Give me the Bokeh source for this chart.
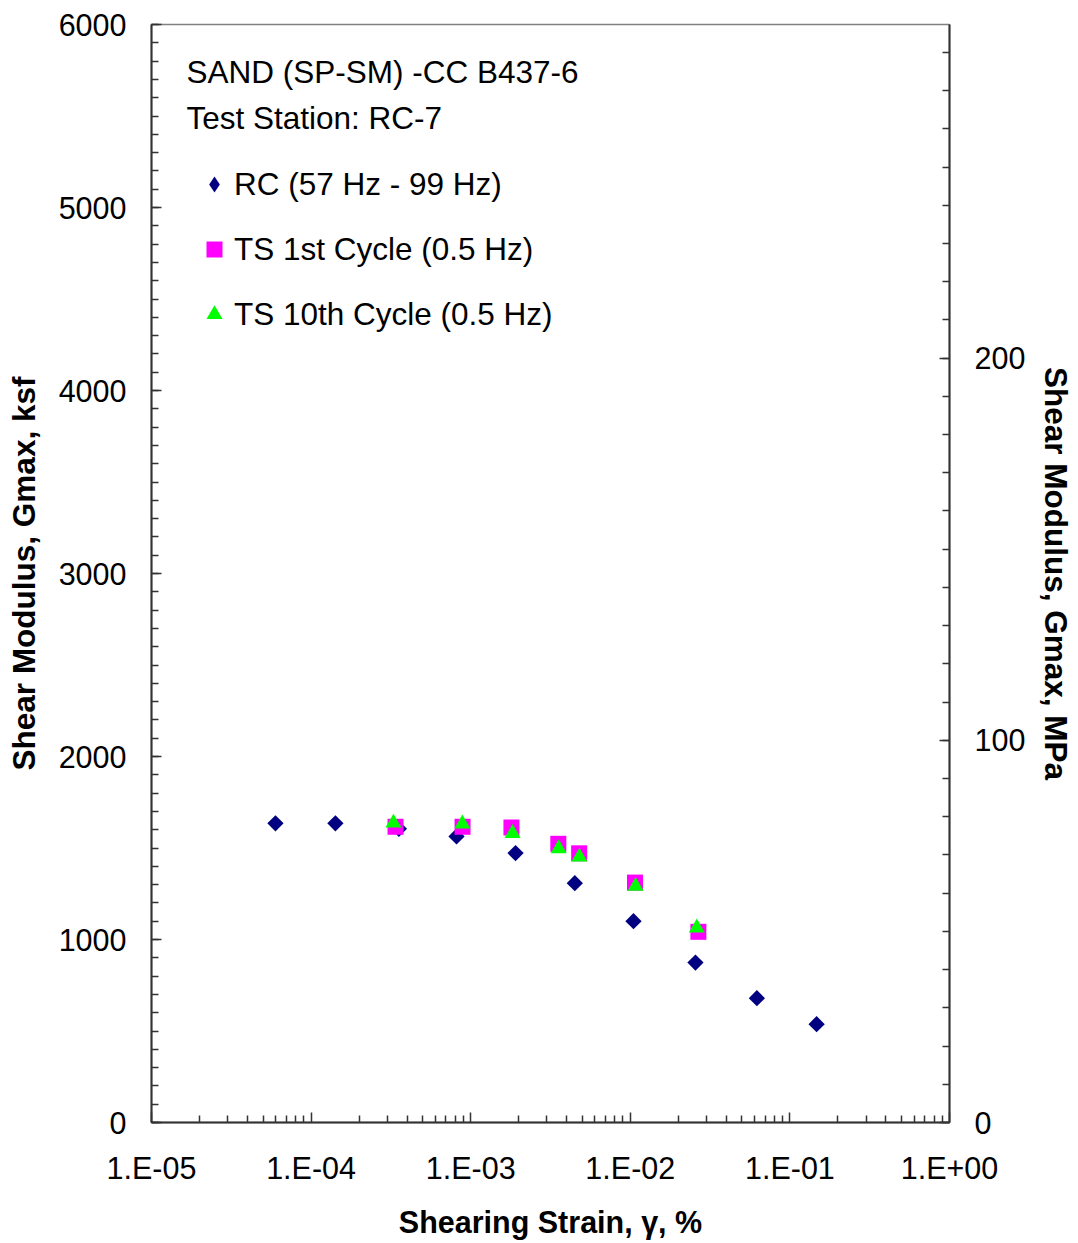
import numpy as np
from bokeh.plotting import figure
from bokeh.models import (Range1d, LinearAxis, FixedTicker, Legend, LegendItem, Label)
from bokeh.embed import file_html
from bokeh.resources import INLINE

# ---------------- data ----------------
rc_strain = [5.98e-5, 1.42e-4, 3.55e-4, 8.15e-4, 1.91e-3, 4.49e-3, 1.047e-2, 2.56e-2, 6.21e-2, 0.147]
rc_gmax = [1635, 1635, 1605, 1563, 1472, 1308, 1100, 874, 679, 537]

ts1_strain = [3.38e-4, 8.89e-4, 1.80e-3, 3.54e-3, 4.78e-3, 1.07e-2, 2.67e-2]
ts1_gmax = [1616, 1616, 1612, 1523, 1471, 1311, 1042]

ts10_strain = [3.28e-4, 8.87e-4, 1.83e-3, 3.56e-3, 4.80e-3, 1.08e-2, 2.61e-2]
ts10_gmax = [1637, 1632, 1580, 1497, 1451, 1291, 1064]

x_ticks = [1e-5, 1e-4, 1e-3, 1e-2, 1e-1, 1e0]
x_tick_labels = ["1.E-05", "1.E-04", "1.E-03", "1.E-02", "1.E-01", "1.E+00"]
y_ticks_ksf = [0, 1000, 2000, 3000, 4000, 5000, 6000]
y_ticks_mpa = [0, 100, 200]
KSF_PER_MPA = 20.885

series_labels = ["RC (57 Hz - 99 Hz)", "TS 1st Cycle (0.5 Hz)", "TS 10th Cycle (0.5 Hz)"]
note_lines = ["SAND (SP-SM) -CC B437-6", "Test Station: RC-7"]

FONT = "Liberation Sans"
AX_COLOR = "#333333"

x_minor = [m * 10.0 ** e for e in range(-5, 0) for m in range(2, 10)]
y_minor = list(range(0, 6001, 100))
mpa_minor = list(range(0, 290, 10))

p = figure(width=1078, height=1243, x_axis_type="log",
           x_range=Range1d(1e-5, 1.0), y_range=Range1d(0, 6000),
           output_backend="svg", toolbar_location=None,
           min_border_left=151, min_border_right=129,
           min_border_top=24, min_border_bottom=121)
p.extra_y_ranges = {"mpa": Range1d(0, 6000 / KSF_PER_MPA)}

p.xgrid.visible = False
p.ygrid.visible = False
p.outline_line_color = "#808080"
p.outline_line_width = 1.5
p.background_fill_color = "white"
p.border_fill_color = "white"


def style_axis(ax):
    ax.axis_line_color = AX_COLOR
    ax.axis_line_width = 2
    ax.major_tick_in = 10
    ax.major_tick_out = 0
    ax.minor_tick_in = 7
    ax.minor_tick_out = 0
    ax.major_tick_line_color = AX_COLOR
    ax.minor_tick_line_color = AX_COLOR
    ax.major_tick_line_width = 1.5
    ax.minor_tick_line_width = 1.5
    ax.major_label_text_font = FONT
    ax.major_label_text_font_size = "30.5px"
    ax.major_label_text_color = "black"
    ax.axis_label_text_font = FONT
    ax.axis_label_text_font_style = "bold"
    ax.axis_label_text_font_size = "31.5px"
    ax.axis_label_text_color = "black"


xa = p.xaxis[0]
xa.ticker = FixedTicker(ticks=x_ticks, minor_ticks=x_minor)
xa.major_label_overrides = dict(zip(x_ticks, x_tick_labels))
xa.axis_label = "Shearing Strain, γ, %"
style_axis(xa)
xa.axis_label_text_font_size = "30.5px"
xa.major_label_standoff = 28
xa.axis_label_standoff = 17

ya = p.yaxis[0]
ya.ticker = FixedTicker(ticks=y_ticks_ksf, minor_ticks=y_minor)
ya.axis_label = "Shear Modulus, Gmax, ksf"
style_axis(ya)
ya.major_label_standoff = 25
ya.axis_label_standoff = 14

ra = LinearAxis(y_range_name="mpa", ticker=FixedTicker(ticks=y_ticks_mpa, minor_ticks=mpa_minor),
                axis_label="Shear Modulus, Gmax, MPa")
style_axis(ra)
ra.major_label_standoff = 25
ra.axis_label_standoff = 10
p.add_layout(ra, "right")

# ---------------- markers ----------------
r_rc = p.scatter(rc_strain, rc_gmax, marker="square", size=11.5, angle=np.pi / 4,
                 fill_color="#000080", line_color=None)
r_ts1 = p.scatter(ts1_strain, ts1_gmax, marker="square", size=16,
                  fill_color="#FF00FF", line_color=None)
r_ts10 = p.scatter(ts10_strain, ts10_gmax, marker="triangle", size=16,
                   fill_color="#00FF00", line_color=None)
# legend-only glyph for the RC series (diamond symbol)
r_rc_key = p.scatter(rc_strain, rc_gmax, marker="diamond", size=17,
                     fill_color="#000080", line_color=None, visible=False)

legend = Legend(items=[LegendItem(label=series_labels[0], renderers=[r_rc_key]),
                       LegendItem(label=series_labels[1], renderers=[r_ts1]),
                       LegendItem(label=series_labels[2], renderers=[r_ts10])],
                location=(43, 788), glyph_width=40, glyph_height=40,
                label_height=40, label_standoff=-2, padding=0, margin=0,
                spacing=25, border_line_alpha=0, background_fill_alpha=0,
                label_text_font=FONT, label_text_font_size="31.5px",
                label_text_color="black")
p.add_layout(legend)

for txt, yy in zip(note_lines, [1051, 1005]):
    p.add_layout(Label(x=35, y=yy, x_units="screen", y_units="screen", text=txt,
                       text_font=FONT, text_font_size="31.5px", text_baseline="middle",
                       text_color="black"))

open("out.html", "w").write(file_html(p, INLINE))
